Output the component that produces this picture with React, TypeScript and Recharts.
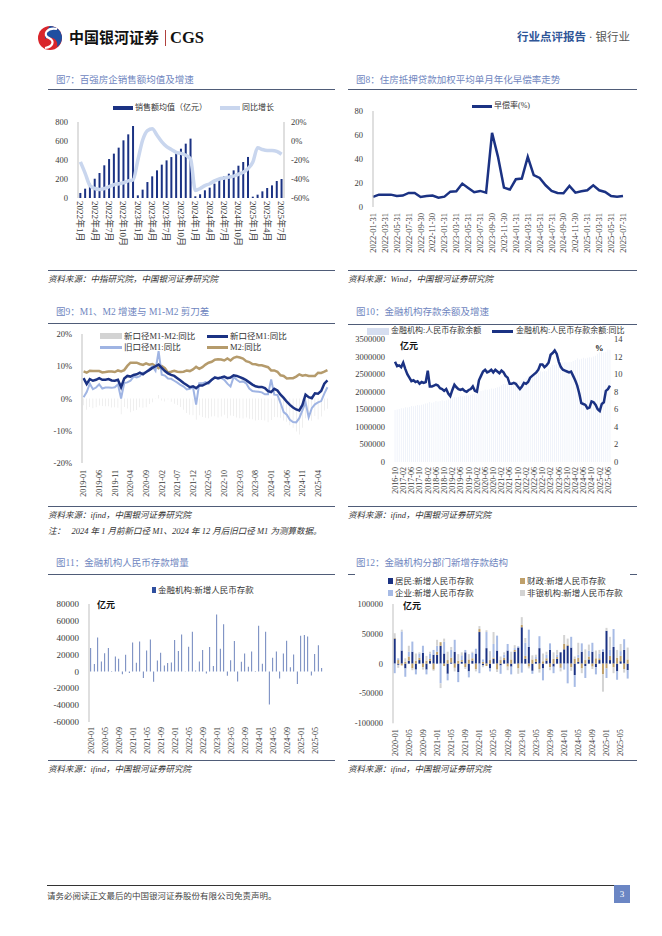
import React from "react";
import { ComposedChart, BarChart, LineChart, Bar, Line, XAxis, YAxis } from "recharts";

const FONT = "'Liberation Serif', 'Noto Sans CJK SC', serif";
const NAVY = "#1b3283";
const TICK = "#3a3a3a";
const AXIS = "#bfbfbf";
const TITLE = "#6f86c0";
const RULE = "#4f5c78";

// month helpers for category labels
const months = (y0: number, m0: number, n: number) =>
  Array.from({ length: n }, (_, i) => {
    const t = y0 * 12 + (m0 - 1) + i;
    return { y: Math.floor(t / 12), m: (t % 12) + 1 };
  });
const pad = (m: number) => (m < 10 ? `0${m}` : `${m}`);
const ym = (d: { y: number; m: number }) => `${d.y}-${pad(d.m)}`;

// ---- 图7 百强房企销售额均值及增速
const C7_MONTHS = months(2022, 1, 43).map((d) => `${d.y}年${d.m}月`);
const C7_SALES = [
  53, 98, 150, 203, 263, 344, 410, 467, 530, 607, 670, 758,
  28, 88, 168, 228, 291, 351, 396, 431, 474, 519, 572, 625,
  18, 39, 81, 109, 151, 203, 228, 256, 291, 340, 379, 432,
  14, 35, 70, 105, 133, 179, 200,
];
const C7_YOY = [
  -22, -34, -47, -50, -51, -50, -48, -46, -45, -44, -42, -41,
  -20, 1, 11, 13, 6, -1, -6, -9, -12, -13, -15, -19,
  -52, -50, -47, -45, -42, -40, -39, -38, -37, -35, -33, -29,
  -22, -7, -9, -10, -10, -11, -14,
];

// ---- 图8 早偿率
const C8_DATES = months(2022, 1, 43).map((d) => `${d.y}-${pad(d.m)}-${new Date(d.y, d.m, 0).getDate()}`);
const C8_RATE = [
  8.4, 10.3, 10.3, 10.3, 9.2, 9.5, 11.7, 11.7, 8.4, 9.2, 9.5, 7.8,
  8.6, 12.8, 13.1, 19.5, 15.9, 12.3, 13.4, 12.0, 61.8, 41.8, 16.2, 14.5,
  23.1, 23.7, 41.8, 26.5, 24.2, 18.1, 13.4, 11.7, 11.4, 17.5, 12.0, 13.1,
  13.9, 18.1, 13.9, 12.5, 9.2, 8.6, 9.2,
];

// ---- 图9 M1、M2
const C9_MONTHS = months(2019, 1, 79).map(ym);
const C9_GAP = [
  -2.1, -3.5, -2.6, -3.0, -2.7, -2.2, -2.3, -2.4, -2.4, -2.8, -2.7, -2.9,
  -4.9, -2.6, -3.1, -4.3, -3.8, -3.6, -2.7, -2.9, -2.7, -1.7, -1.2, -0.1,
  1.1, -0.6, -0.9, -0.3, -1.0, -1.6, -2.0, -2.6, -3.5, -4.5, -5.0, -5.2,
  -6.6, -5.2, -5.7, -6.0, -6.1, -5.6, -5.5, -5.9, -5.6, -5.0, -6.1, -5.3,
  -5.4, -5.9, -6.1, -6.2, -5.9, -6.3, -6.4, -6.8, -6.7, -6.7, -6.8, -7.4,
  -6.7, -5.7, -5.8, -6.0, -6.8, -7.2, -8.3, -9.1, -10.2, -11.2, -9.1, -6.1,
  -6.6, -6.9, -5.4, -6.5, -5.6, -3.7, -3.2,
];
const C9_NEW_M1 = [
  6.3, 4.5, 6.0, 5.5, 5.8, 6.3, 5.8, 5.8, 6.0, 5.6, 5.5, 5.8,
  3.5, 6.2, 7.0, 6.8, 7.3, 7.5, 8.0, 7.5, 8.2, 8.8, 9.5, 10.0,
  10.5, 9.5, 8.5, 7.8, 7.3, 7.0, 6.3, 5.6, 4.8, 4.2, 3.5, 3.8,
  3.2, 4.0, 4.0, 4.5, 5.0, 5.8, 6.5, 6.3, 6.5, 6.8, 6.3, 6.5,
  7.2, 7.0, 6.6, 6.2, 5.7, 5.0, 4.3, 3.8, 3.6, 3.6, 3.2, 2.3,
  2.0, 3.0, 2.5, 1.2, 0.2, -1.0, -2.0, -2.8, -3.4, -3.7, -2.0, 1.2,
  0.4, 0.1, 1.6, 1.5, 2.3, 4.6, 5.6,
];
const C9_OLD_M1 = [
  0.4, 2.0, 4.6, 2.9, 3.4, 4.4, 3.1, 3.4, 3.4, 3.3, 3.5, 4.4,
  0.0, 4.8, 5.0, 5.5, 6.8, 6.5, 6.9, 8.0, 8.1, 9.1, 10.0, 8.6,
  14.7, 7.4, 7.1, 6.2, 6.1, 5.5, 4.9, 4.2, 3.7, 2.8, 3.0, 3.5,
  -1.9, 4.7, 4.7, 5.1, 4.6, 5.8, 6.7, 6.1, 6.4, 5.8, 4.6, 3.7,
  6.7, 5.8, 5.1, 5.3, 4.7, 3.1, 2.3, 2.2, 2.1, 1.9, 1.3, 1.3,
  5.9, 1.2, 1.1, -1.4, -4.2, -5.0, -6.6, -7.3, -7.4, -6.1, -3.7, -1.2,
  -5.8, -3.0, -1.8, -1.2, -0.8, 1.5, 3.5,
];
const C9_M2 = [
  8.4, 8.0, 8.6, 8.5, 8.5, 8.5, 8.1, 8.2, 8.4, 8.4, 8.2, 8.7,
  8.4, 8.8, 10.1, 11.1, 11.1, 11.1, 10.7, 10.4, 10.9, 10.5, 10.7, 10.1,
  9.4, 10.1, 9.4, 8.1, 8.3, 8.6, 8.3, 8.2, 8.3, 8.7, 8.5, 9.0,
  9.8, 9.2, 9.7, 10.5, 11.1, 11.4, 12.0, 12.2, 12.1, 11.8, 12.4, 11.8,
  12.6, 12.9, 12.7, 12.4, 11.6, 11.3, 10.7, 10.6, 10.3, 10.3, 10.0, 9.7,
  8.7, 8.7, 8.3, 7.2, 7.0, 6.2, 6.3, 6.3, 6.8, 7.5, 7.1, 7.3,
  7.0, 7.0, 7.0, 8.0, 7.9, 8.3, 8.8,
];

// ---- 图10 存款余额及增速
const C10_MONTHS = months(2016, 10, 106).map(ym);
const C10_BAL = [
  1480000, 1493000, 1506000,
  1527000, 1530000, 1560000, 1552000, 1565000, 1597000, 1583000, 1600000, 1619000, 1613000, 1629000, 1641000,
  1663000, 1673000, 1709000, 1689000, 1701000, 1736000, 1725000, 1739000, 1758000, 1744000, 1759000, 1775000,
  1809000, 1816000, 1847000, 1836000, 1849000, 1881000, 1867000, 1881000, 1900000, 1893000, 1910000, 1929000,
  1939000, 1951000, 2012000, 2017000, 2034000, 2066000, 2054000, 2071000, 2092000, 2082000, 2105000, 2126000,
  2140000, 2187000, 2223000, 2215000, 2236000, 2279000, 2264000, 2284000, 2309000, 2295000, 2312000, 2323000,
  2355000, 2390000, 2446000, 2449000, 2478000, 2531000, 2521000, 2543000, 2580000, 2569000, 2589000, 2585000,
  2654000, 2698000, 2769000, 2757000, 2779000, 2813000, 2802000, 2824000, 2846000, 2829000, 2835000, 2843000,
  2874000, 2900000, 2955000, 2916000, 2938000, 2965000, 2947000, 2964000, 2984000, 2977000, 2999000, 3023000,
  3077000, 3121000, 3168000, 3114000, 3139000, 3202000, 3191000,
];
const C10_YOY = [
  11.4, 10.9, 11.0,
  10.8, 11.3, 10.6, 10.0, 9.6, 9.2, 9.3, 9.1, 9.2, 8.9, 9.1, 9.0,
  9.1, 10.4, 8.6, 8.6, 8.7, 8.8, 8.7, 8.4, 8.3, 8.1, 8.3, 7.8,
  7.5, 8.2, 8.8, 8.5, 8.3, 8.2, 8.3, 8.1, 8.0, 8.2, 8.3, 8.6,
  8.1, 8.0, 9.3, 9.8, 10.3, 10.5, 10.2, 10.3, 10.5, 10.2, 10.5, 10.3,
  10.1, 10.4, 10.2, 9.8, 9.6, 8.9, 8.9, 9.0, 8.9, 8.6, 8.3, 8.6,
  9.0, 8.9, 9.1, 9.6, 9.8, 10.0, 10.2, 10.5, 11.1, 11.1, 10.8, 11.0,
  11.3, 12.2, 12.4, 12.7, 12.3, 11.4, 10.8, 10.5, 10.4, 10.3, 10.2, 10.3,
  9.8, 9.3, 8.7, 7.8, 6.7, 6.6, 6.5, 6.1, 6.2, 6.9, 6.8, 6.5,
  6.0, 5.8, 6.6, 6.8, 8.1, 8.3, 8.7,
];

// ---- 图11 新增人民币存款
const C11_MONTHS = months(2020, 1, 67).map(ym);
const C11_NEW = [
  27700, 8700, 40300, 11900, 21700, 27700, 500, 17800, 15000, -3200, 19800, -2000,
  34400, 10300, 35600, -7900, 24900, 37900, -12300, 13000, 22100, 7100, 9900, 10700,
  37200, 24100, 43900, 300, 29200, 47000, 1000, 11900, 25300, -2400, 28900, 6300,
  67600, 26900, 56100, -5100, 13400, 36000, -11900, 11500, 21300, 5500, 23700, 500,
  54200, 9100, 47000, -39100, 16200, 23700, -8300, 21300, 36400, 5100, 20200, -15000,
  42300, 43100, 41500, -4700, 20600, 31200, 4000,
];

// ---- 图12 分部门新增存款
const C12_HOUSE = [
  42000, -2000, 22000, -8000, 5000, 20000, -10000, 6000, 18000, -10000, 5000, 15000,
  15000, 30000, 17000, -17000, 2000, 20000, -14000, 3000, 19000, -13000, 5000, 17000,
  53000, -3000, 26000, -8000, 8000, 22000, -3000, 6000, 22000, -5000, 20000, 27000,
  61000, 8000, 28000, -12000, 3000, 26000, -8000, 5000, 23000, -5000, 8000, 19000,
  24000, 30000, 27000, -19000, 3000, 20000, -4000, 7000, 20000, -6000, 6000, 20000,
  55000, 6000, 28000, -13000, 4000, 23000, -11000,
];
const C12_FISCAL = [
  1000, 6000, -3000, 3000, 7000, -8000, 5000, 4000, -6000, 5000, 3000, -10000,
  5000, 6000, -4000, 6000, 8000, -7000, 5000, 3000, -6000, 7000, 4000, -9000,
  5000, 3000, -4000, 6000, 2000, -10000, 6000, 4000, -5000, 7000, 3000, -8000,
  4000, 5000, -5000, 7000, 5000, -9000, 4000, 4000, -6000, 8000, 3000, -7000,
  9000, 2000, -6000, 8000, 7000, -8000, 6000, 5000, -5000, 9000, 3000, -18000,
  -8000, 7000, -6000, 10000, 9000, -9000, 7000,
];
const C12_CORP = [
  -16000, 3000, 32000, -14000, 8000, 17000, -8000, 7000, 12000, -8000, 9000, 8000,
  10000, -33000, 20000, -11000, 13000, 20000, -17000, 8000, 4000, -10000, 9000, 8000,
  -16000, 4000, 27000, -5000, 23000, 25000, -14000, 5000, 11000, -13000, 3000, 2000,
  -15000, 22000, 29000, -5000, 3000, 20000, -20000, 6000, 11000, -11000, 4000, -1000,
  -10000, -33000, 18000, -20000, 5000, 14000, -20000, 10000, 15000, -12000, 8000, 4000,
  -16000, 10000, 30000, -14000, 8000, 18000, -14000,
];
const C12_NONBANK = [
  8000, -5000, 3000, 6000, 10000, -3000, 12000, 2000, -4000, 8000, 3000, -2000,
  10000, -8000, 5000, 14000, 5000, -6000, 11000, 5000, -3000, 9000, 2000, -4000,
  5000, -3000, 3000, 15000, 20000, -4000, 6000, 4000, -6000, 13000, 5000, -9000,
  13000, 8000, -3000, 7000, 4000, -6000, 13000, 5000, -5000, 11000, 8000, -5000,
  15000, 10000, -6000, 4000, 20000, -8000, 18000, 10000, -4000, 13000, 6000, -29000,
  5000, 22000, -10000, 13000, 12000, -6000, 20000,
];

const c7Data = C7_MONTHS.map((m, i) => ({ m, sales: C7_SALES[i], yoy: C7_YOY[i] }));
const c8Data = C8_DATES.map((m, i) => ({ m, rate: C8_RATE[i] }));
const c9Data = C9_MONTHS.map((m, i) => ({ m, gap: C9_GAP[i], newM1: C9_NEW_M1[i], oldM1: C9_OLD_M1[i], m2: C9_M2[i] }));
const c10Data = C10_MONTHS.map((m, i) => ({ m, bal: C10_BAL[i], yoy: C10_YOY[i] }));
const c11Data = C11_MONTHS.map((m, i) => ({ m, v: C11_NEW[i] }));
const c12Data = C11_MONTHS.map((m, i) => ({
  m, h: C12_HOUSE[i], f: C12_FISCAL[i], c: C12_CORP[i], n: C12_NONBANK[i],
}));

const tickStyle = (size = 8.5) => ({ fontSize: size, fill: TICK, fontFamily: FONT });

// rotated x labels, reading bottom to top
const upTick = (size: number) => (p: any) => (
  <text x={p.x} y={p.y} transform={`rotate(-90 ${p.x} ${p.y})`} textAnchor="end" dy="0.35em"
    fontSize={size} fill={TICK} fontFamily={FONT}>{p.payload.value}</text>
);
// rotated x labels, reading top to bottom
const downTick = (size: number) => (p: any) => (
  <text x={p.x} y={p.y} transform={`rotate(90 ${p.x} ${p.y})`} textAnchor="start" dy="0.35em"
    fontSize={size} fill={TICK} fontFamily={FONT}>{p.payload.value}</text>
);

function T({ x, y, size = 9, color = "#333", weight = 400, italic = false, right, children }: any) {
  const pos: any = right !== undefined ? { right: 662 - right } : { left: x };
  return (
    <div style={{
      position: "absolute", ...pos, top: y, transform: "translateY(-50%)", fontSize: size, color,
      fontWeight: weight, fontStyle: italic ? "italic" : "normal", whiteSpace: "nowrap", lineHeight: 1, fontFamily: FONT,
    }}>{children}</div>
  );
}

function Rule({ x1, x2, y, color = RULE, h = 1 }: any) {
  return <div style={{ position: "absolute", left: x1, top: y, width: x2 - x1, height: h, background: color }} />;
}

function Mark({ x, y, w, h, color }: any) {
  return <div style={{ position: "absolute", left: x, top: y - h / 2, width: w, height: h, background: color }} />;
}

function Box({ x, y, children }: any) {
  return <div style={{ position: "absolute", left: x, top: y }}>{children}</div>;
}

function Logo() {
  return (
    <svg width={28} height={26} style={{ position: "absolute", left: 37, top: 25 }}>
      <circle cx={13} cy={13} r={12} fill="#d9252b" />
      <path d="M13 1 A12 12 0 0 1 25 13 A12 12 0 0 1 20 22 C22 14 14 10 8 14 C8 7 11 3 13 1 Z" fill="#1f4fa0" />
      <path d="M20 4 C10 2 5 10 12 13 C18 16 16 22 8 23" stroke="#fff" strokeWidth={2.2} fill="none" />
    </svg>
  );
}

export default function App() {
  return (
    <div style={{ position: "absolute", left: 0, top: 0, width: 662, height: 936, background: "#fff", overflow: "hidden", fontFamily: FONT }}>
      {/* header */}
      <Logo />
      <T x={69} y={38} size={15} color="#111" weight={700}>中国银河证券</T>
      <Rule x1={165} x2={166.2} y={30} color="#b0413e" h={16} />
      <T x={170} y={38} size={16.5} color="#111" weight={700}>CGS</T>
      <T right={630} y={38} size={11.5} color="#2f5597" weight={700}>
        行业点评报告 <span style={{ color: "#555", fontWeight: 400 }}>· 银行业</span>
      </T>

      {/* 图7 */}
      <T x={56} y={80.5} size={9.5} color={TITLE}>图7：百强房企销售额均值及增速</T>
      <Rule x1={48} x2={335} y={89} />
      <Box x={48} y={95}>
        <ComposedChart width={290} height={170} data={c7Data} margin={{ top: 27, right: 14, left: 0, bottom: 0 }} barCategoryGap="28%">
          <XAxis dataKey="m" interval={2} tick={downTick(9)} tickLine={false} axisLine={false} height={67} tickSize={0} tickMargin={3} />
          <YAxis yAxisId="l" domain={[0, 800]} ticks={[0, 200, 400, 600, 800]} width={30} axisLine={{ stroke: AXIS }} tickLine={false} tickSize={0} tickMargin={10} tick={tickStyle()} />
          <YAxis yAxisId="r" orientation="right" domain={[-60, 20]} ticks={[-60, -40, -20, 0, 20]} tickFormatter={(v) => `${v}%`} width={40} axisLine={{ stroke: AXIS }} tickLine={false} tickSize={0} tickMargin={7} tick={tickStyle()} />
          <Bar yAxisId="l" dataKey="sales" fill={NAVY} isAnimationActive={false} />
          <Line yAxisId="r" dataKey="yoy" type="monotone" stroke="#c9d6ee" strokeWidth={3.5} dot={false} isAnimationActive={false} />
        </ComposedChart>
      </Box>
      <Mark x={113} y={108} w={20} h={4} color={NAVY} />
      <T x={135} y={108} size={8}>销售额均值（亿元）</T>
      <Mark x={220} y={108} w={20} h={4} color="#c9d6ee" />
      <T x={242} y={108} size={8}>同比增长</T>
      <Rule x1={48} x2={335} y={270} />
      <T x={48} y={278.5} size={8.5} italic color="#333">资料来源：中指研究院，中国银河证券研究院</T>

      {/* 图8 */}
      <T x={356} y={80.5} size={9.5} color={TITLE}>图8：住房抵押贷款加权平均单月年化早偿率走势</T>
      <Rule x1={348} x2={637} y={89} />
      <Box x={348} y={95}>
        <LineChart width={290} height={165} data={c8Data} margin={{ top: 16, right: 15, left: 0, bottom: 0 }}>
          <XAxis dataKey="m" interval={1} tick={upTick(8.5)} tickLine={false} axisLine={false} height={53} tickSize={0} tickMargin={6} />
          <YAxis domain={[0, 80]} ticks={[0, 20, 40, 60, 80]} width={25} axisLine={{ stroke: AXIS }} tickLine={false} tickSize={0} tickMargin={10} tick={tickStyle()} />
          <Line dataKey="rate" type="linear" stroke={NAVY} strokeWidth={2.5} dot={false} isAnimationActive={false} />
        </LineChart>
      </Box>
      <Mark x={472} y={106} w={20} h={3} color={NAVY} />
      <T x={494} y={106} size={8}>早偿率(%)</T>
      <Rule x1={348} x2={637} y={270} />
      <T x={348} y={279} size={8.5} italic color="#333">资料来源：Wind，中国银河证券研究院</T>

      {/* 图9 */}
      <T x={56} y={313} size={9.5} color={TITLE}>图9：M1、M2 增速与 M1-M2 剪刀差</T>
      <Rule x1={48} x2={335} y={323} />
      <Box x={40} y={325}>
        <ComposedChart width={300} height={180} data={c9Data} margin={{ top: 9, right: 11, left: 0, bottom: 0 }} barCategoryGap="45%">
          <XAxis dataKey="m" interval={4} tick={upTick(8)} tickLine={false} axisLine={false} height={42} tickSize={0} tickMargin={7} />
          <YAxis domain={[-20, 20]} ticks={[-20, -10, 0, 10, 20]} tickFormatter={(v) => `${v}%`} width={42} axisLine={{ stroke: AXIS }} tickLine={false} tickSize={0} tickMargin={10} tick={tickStyle()} />
          <Bar dataKey="gap" fill="#cdcdcd" isAnimationActive={false} />
          <Line dataKey="m2" type="linear" stroke="#b59b6c" strokeWidth={2.5} dot={false} isAnimationActive={false} />
          <Line dataKey="oldM1" type="linear" stroke="#9fb4e3" strokeWidth={2} dot={false} isAnimationActive={false} />
          <Line dataKey="newM1" type="linear" stroke={NAVY} strokeWidth={2.5} dot={false} isAnimationActive={false} />
        </ComposedChart>
      </Box>
      <Mark x={100} y={336} w={22} h={6} color="#d3d3d3" />
      <T x={124} y={336} size={8.5}>新口径M1-M2:同比</T>
      <Mark x={207} y={336} w={21} h={3} color={NAVY} />
      <T x={230} y={336} size={8.5}>新口径M1:同比</T>
      <Mark x={100} y={347} w={22} h={3} color="#9fb4e3" />
      <T x={124} y={347} size={8.5}>旧口径M1:同比</T>
      <Mark x={207} y={347} w={21} h={3} color="#b59b6c" />
      <T x={230} y={347} size={8.5}>M2:同比</T>
      <Rule x1={48} x2={335} y={506} />
      <T x={48} y={515} size={8.5} italic color="#333">资料来源：ifind，中国银河证券研究院</T>
      <T x={48} y={531} size={8.5} italic color="#333">注：&nbsp;&nbsp;&nbsp;2024 年 1 月前新口径 M1、2024 年 12 月后旧口径 M1 为测算数据。</T>

      {/* 图10 */}
      <T x={356} y={313} size={9.5} color={TITLE}>图10：金融机构存款余额及增速</T>
      <Rule x1={348} x2={637} y={323.5} />
      <Box x={340} y={330}>
        <ComposedChart width={300} height={175} data={c10Data} margin={{ top: 9, right: 0, left: 0, bottom: 0 }} barCategoryGap="40%">
          <XAxis dataKey="m" interval={3} tick={upTick(8)} tickLine={false} axisLine={false} height={43} tickSize={0} tickMargin={5} />
          <YAxis yAxisId="l" domain={[0, 3500000]} ticks={[0, 500000, 1000000, 1500000, 2000000, 2500000, 3000000, 3500000]} width={54} axisLine={false} tickLine={false} tickSize={0} tickMargin={9} tick={tickStyle()} />
          <YAxis yAxisId="r" orientation="right" domain={[0, 14]} ticks={[0, 2, 4, 6, 8, 10, 12, 14]} width={29} axisLine={false} tickLine={false} tickSize={0} tickMargin={3} tick={tickStyle()} />
          <Bar yAxisId="l" dataKey="bal" fill="#dbe3f3" isAnimationActive={false} />
          <Line yAxisId="r" dataKey="yoy" type="linear" stroke={NAVY} strokeWidth={2.5} dot={false} isAnimationActive={false} />
        </ComposedChart>
      </Box>
      <Mark x={367} y={331} w={22} h={7} color="#d6def0" />
      <T x={391} y={331} size={8}>金融机构:人民币存款余额</T>
      <Mark x={492} y={331} w={21} h={3} color={NAVY} />
      <T x={516} y={331} size={8}>金融机构:人民币存款余额:同比</T>
      <T x={400} y={346} size={9} weight={700} color="#111">亿元</T>
      <T x={595} y={348} size={8.5} weight={700} color="#111">%</T>
      <Rule x1={348} x2={637} y={505.5} />
      <T x={348} y={515} size={8.5} italic color="#333">资料来源：ifind，中国银河证券研究院</T>

      {/* 图11 */}
      <T x={56} y={564} size={9.5} color={TITLE}>图11：金融机构人民币存款增量</T>
      <Rule x1={48} x2={335} y={574} />
      <Box x={40} y={595}>
        <BarChart width={300} height={170} data={c11Data} margin={{ top: 9, right: 16.5, left: 0, bottom: 0 }} barCategoryGap="40%">
          <XAxis dataKey="m" interval={3} tick={upTick(8)} tickLine={false} axisLine={false} height={43} tickSize={0} tickMargin={5} />
          <YAxis domain={[-60000, 80000]} ticks={[-60000, -40000, -20000, 0, 20000, 40000, 60000, 80000]} width={49} axisLine={{ stroke: AXIS }} tickLine={false} tickSize={0} tickMargin={10} tick={tickStyle(9)} />
          <Bar dataKey="v" fill="#2f4f9f" isAnimationActive={false} />
        </BarChart>
      </Box>
      <Mark x={151.5} y={589.5} w={4} h={6} color="#2f4f9f" />
      <T x={158} y={589.5} size={8.5}>金融机构:新增人民币存款</T>
      <T x={97} y={604.5} size={9} weight={700} color="#111">亿元</T>
      <Rule x1={48} x2={335} y={759.5} />
      <T x={48} y={768.5} size={8.5} italic color="#333">资料来源：ifind，中国银河证券研究院</T>

      {/* 图12 */}
      <T x={356} y={564} size={9.5} color={TITLE}>图12：金融机构分部门新增存款结构</T>
      <Rule x1={348} x2={355} y={574} />
      <Rule x1={630} x2={637} y={574} />
      <Box x={340} y={595}>
        <BarChart width={300} height={175} data={c12Data} stackOffset="sign" margin={{ top: 9, right: 10.5, left: 0, bottom: 0 }} barCategoryGap="20%">
          <XAxis dataKey="m" interval={3} tick={upTick(8)} tickLine={false} axisLine={false} height={46.7} tickSize={0} tickMargin={6} />
          <YAxis domain={[-100000, 100000]} ticks={[-100000, -50000, 0, 50000, 100000]} width={53} axisLine={{ stroke: AXIS }} tickLine={false} tickSize={0} tickMargin={10} tick={tickStyle()} />
          <Bar dataKey="h" stackId="s" fill={NAVY} isAnimationActive={false} />
          <Bar dataKey="f" stackId="s" fill="#bfa06a" isAnimationActive={false} />
          <Bar dataKey="c" stackId="s" fill="#a7bbe5" isAnimationActive={false} />
          <Bar dataKey="n" stackId="s" fill="#d3d3d3" isAnimationActive={false} />
        </BarChart>
      </Box>
      <Mark x={388} y={581} w={4.5} h={6} color={NAVY} />
      <T x={395} y={581} size={8.5}>居民:新增人民币存款</T>
      <Mark x={520} y={581} w={4.5} h={6} color="#bfa06a" />
      <T x={527} y={581} size={8.5}>财政:新增人民币存款</T>
      <Mark x={388} y={593} w={4.5} h={6} color="#a7bbe5" />
      <T x={395} y={593} size={8.5}>企业:新增人民币存款</T>
      <Mark x={520} y={593} w={4.5} h={6} color="#d3d3d3" />
      <T x={527} y={593} size={8.5}>非银机构:新增人民币存款</T>
      <T x={403} y={606} size={9} weight={700} color="#111">亿元</T>
      <Rule x1={348} x2={637} y={759.5} />
      <T x={348} y={768.5} size={8.5} italic color="#333">资料来源：ifind，中国银河证券研究院</T>

      {/* footer */}
      <Rule x1={47} x2={630} y={885} color="#333" />
      <T x={47} y={896} size={8.5} color="#444">请务必阅读正文最后的中国银河证券股份有限公司免责声明。</T>
      <div style={{ position: "absolute", left: 614, top: 885, width: 16, height: 18, background: "#6b86c4", color: "#fff", fontSize: 9, lineHeight: "18px", textAlign: "center", fontFamily: FONT }}>3</div>
    </div>
  );
}
